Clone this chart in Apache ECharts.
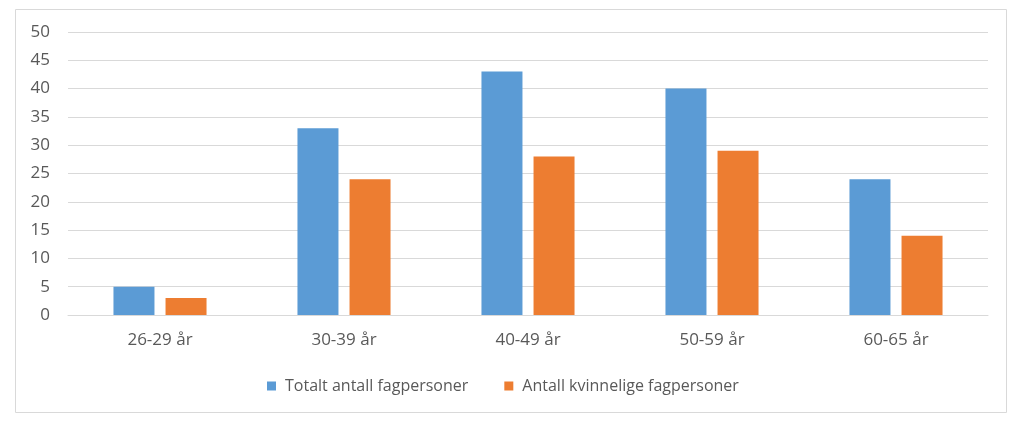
<!DOCTYPE html>
<html><head><meta charset="utf-8">
<script src="https://cdn.jsdelivr.net/npm/echarts@6/dist/echarts.min.js"></script>
<style>html,body{margin:0;padding:0;background:#fff}#c{width:1024px;height:427px}</style>
</head><body><div id="c"></div>
<script>
const categories = ['26-29 år','30-39 år','40-49 år','50-59 år','60-65 år'];
const totalt = [5,33,43,40,24];
const kvinner = [3,24,28,29,14];
const seriesNames = ['Totalt antall fagpersoner','Antall kvinnelige fagpersoner'];
const chart = echarts.init(document.getElementById('c'));
const font = 'Open Sans';
chart.setOption({
  animation:false,
  textStyle:{fontFamily:font},
  graphic:[{type:'rect',shape:{x:15.5,y:9.5,width:991,height:403},style:{fill:'none',stroke:'#d9d9d9',lineWidth:1},silent:true}],
  grid:{left:68,right:36,top:32,bottom:112},
  legend:{left:262,top:373,itemWidth:9,itemHeight:9,itemGap:36,icon:'rect',
    textStyle:{fontFamily:font,fontSize:16,color:'#595959',padding:[0,0,0,4]},data:seriesNames},
  xAxis:{type:'category',data:categories,axisTick:{show:false},
    axisLine:{lineStyle:{color:'#d9d9d9'}},
    axisLabel:{fontFamily:font,fontSize:17,color:'#595959',margin:17}},
  yAxis:{type:'value',min:0,max:50,interval:5,
    axisLabel:{fontFamily:font,fontSize:17,color:'#595959',margin:18},
    splitLine:{lineStyle:{color:'#d9d9d9'}},axisLine:{show:false},axisTick:{show:false}},
  series:[
    {name:seriesNames[0],type:'bar',data:totalt,barWidth:41,barGap:'27%',itemStyle:{color:'#5b9bd5'}},
    {name:seriesNames[1],type:'bar',data:kvinner,barWidth:41,barGap:'27%',itemStyle:{color:'#ed7d31'}}
  ]
});
</script></body></html>
